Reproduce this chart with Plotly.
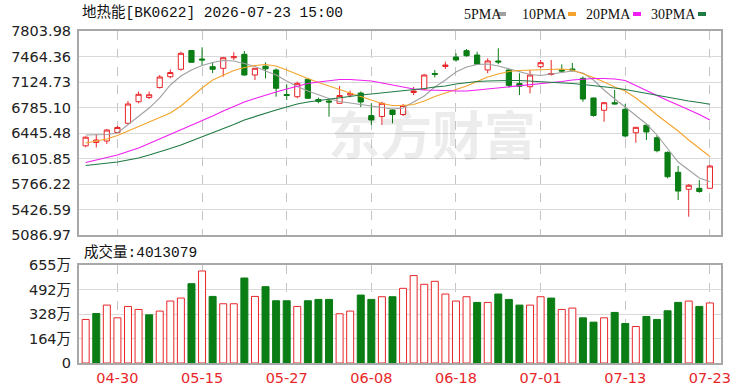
import plotly.graph_objects as go

# ---------------- data ----------------
dates = ["2026-04-27", "2026-04-28", "2026-04-29", "2026-04-30", "2026-05-06", "2026-05-07",
         "2026-05-08", "2026-05-11", "2026-05-12", "2026-05-13", "2026-05-14", "2026-05-15",
         "2026-05-18", "2026-05-19", "2026-05-20", "2026-05-21", "2026-05-22", "2026-05-25",
         "2026-05-26", "2026-05-27", "2026-05-28", "2026-05-29", "2026-06-01", "2026-06-02",
         "2026-06-03", "2026-06-04", "2026-06-05", "2026-06-08", "2026-06-09", "2026-06-10",
         "2026-06-11", "2026-06-12", "2026-06-15", "2026-06-16", "2026-06-17", "2026-06-18",
         "2026-06-22", "2026-06-23", "2026-06-24", "2026-06-25", "2026-06-26", "2026-06-29",
         "2026-06-30", "2026-07-01", "2026-07-02", "2026-07-03", "2026-07-06", "2026-07-07",
         "2026-07-08", "2026-07-09", "2026-07-10", "2026-07-13", "2026-07-14", "2026-07-15",
         "2026-07-16", "2026-07-17", "2026-07-20", "2026-07-21", "2026-07-22", "2026-07-23"]

open_ = [6275, 6319, 6339, 6452, 6575, 6862, 6918, 7051, 7195, 7294,
         7544, 7431, 7329, 7307, 7448, 7494, 7218, 7335, 7285, 6958,
         6929, 7161, 6892, 6872, 6841, 6951, 6978, 6678, 6665, 6752,
         6692, 6985, 7031, 7238, 7331, 7458, 7542, 7484, 7285, 7405,
         7285, 7105, 7062, 7329, 7225, 7285, 7298, 7174, 6912, 6748,
         6849, 6761, 6449, 6548, 6383, 6188, 5922, 5696, 5709, 5709]
high = [6400, 6428, 6499, 6539, 6872, 6998, 6998, 7218, 7291, 7528,
        7551, 7587, 7382, 7458, 7520, 7538, 7311, 7387, 7305, 7094,
        7129, 7174, 6916, 6908, 7071, 7009, 6998, 6841, 6862, 6765,
        6832, 7058, 7231, 7284, 7395, 7507, 7564, 7528, 7440, 7574,
        7298, 7241, 7285, 7418, 7418, 7360, 7378, 7198, 6918, 6852,
        7018, 6832, 6525, 6565, 6415, 6199, 6006, 5766, 5820, 6020]
low = [6255, 6252, 6299, 6439, 6559, 6841, 6898, 7038, 7174, 7275,
       7384, 7351, 7241, 7195, 7418, 7211, 7151, 7174, 6929, 6885,
       6908, 6898, 6841, 6663, 6838, 6921, 6792, 6552, 6552, 6575,
       6672, 6951, 7018, 7185, 7298, 7395, 7462, 7351, 7241, 7361,
       7051, 6951, 6974, 7311, 7211, 7254, 7267, 6862, 6663, 6596,
       6825, 6386, 6316, 6352, 6188, 5842, 5553, 5331, 5650, 5706]
close = [6390, 6352, 6485, 6519, 6832, 6961, 6955, 7191, 7251, 7507,
         7387, 7418, 7294, 7448, 7462, 7218, 7307, 7300, 7041, 6945,
         7107, 6908, 6865, 6858, 6945, 6972, 6858, 6619, 6841, 6692,
         6812, 7005, 7218, 7225, 7351, 7418, 7475, 7361, 7405, 7391,
         7080, 7068, 7218, 7382, 7238, 7271, 7285, 6898, 6679, 6849,
         6832, 6406, 6521, 6459, 6210, 5863, 5672, 5749, 5666, 6006]

# volume in units of 10,000 (万)
volume_wan = [291, 331, 387, 302, 378, 358, 322, 347, 414, 434,
              530, 615, 445, 396, 396, 568, 445, 510, 416, 416,
              378, 416, 425, 425, 329, 347, 454, 425, 443, 443,
              499, 584, 526, 546, 461, 414, 443, 405, 405, 461,
              425, 387, 387, 443, 434, 358, 367, 302, 273, 302,
              338, 264, 244, 311, 291, 349, 405, 414, 378, 401.3079]

ma5 = [6419, 6419, 6425, 6445, 6552, 6659, 6778, 6912, 7085, 7205,
       7285, 7344, 7384, 7411, 7404, 7371, 7331, 7271, 7218, 7138,
       7065, 7005, 6952, 6905, 6865, 6845, 6825, 6805, 6785, 6765,
       6778, 6858, 6938, 7058, 7151, 7258, 7325, 7358, 7364, 7338,
       7298, 7258, 7225, 7211, 7231, 7258, 7271, 7245, 7151, 7018,
       6898, 6792, 6672, 6565, 6419, 6246, 6059, 5953, 5846, 5797]
ma10 = [6312, 6339, 6366, 6412, 6472, 6525, 6585, 6645, 6712, 6805,
        6925, 7045, 7151, 7218, 7278, 7318, 7344, 7358, 7338, 7285,
        7225, 7171, 7118, 7071, 7025, 6985, 6938, 6885, 6838, 6812,
        6812, 6825, 6872, 6932, 6978, 7018, 7071, 7131, 7191, 7231,
        7265, 7278, 7285, 7291, 7298, 7298, 7285, 7238, 7185, 7125,
        7058, 7005, 6912, 6805, 6685, 6579, 6472, 6352, 6246, 6132]
ma20 = [6053, 6086, 6119, 6152, 6199, 6246, 6306, 6366, 6432, 6492,
        6552, 6612, 6672, 6738, 6798, 6858, 6905, 6952, 6992, 7031,
        7071, 7105, 7125, 7145, 7158, 7158, 7151, 7138, 7111, 7085,
        7058, 7031, 7018, 7018, 7011, 7005, 7005, 7018, 7031, 7045,
        7058, 7071, 7085, 7098, 7111, 7131, 7151, 7165, 7171, 7171,
        7165, 7145, 7078, 7005, 6938, 6878, 6818, 6758, 6692, 6619]
ma30 = [6013, 6026, 6039, 6059, 6086, 6112, 6152, 6192, 6239, 6286,
        6339, 6392, 6445, 6499, 6559, 6619, 6665, 6712, 6752, 6792,
        6832, 6858, 6878, 6898, 6918, 6938, 6952, 6965, 6978, 6998,
        7011, 7025, 7038, 7058, 7071, 7098, 7118, 7131, 7138, 7145,
        7145, 7145, 7138, 7131, 7125, 7118, 7105, 7091, 7078, 7065,
        7045, 7025, 6998, 6978, 6952, 6925, 6898, 6872, 6852, 6828]

tick_dates = ["2026-04-30", "2026-05-15", "2026-05-27", "2026-06-08",
              "2026-06-18", "2026-07-01", "2026-07-13", "2026-07-23"]
tick_text = ["04-30", "05-15", "05-27", "06-08", "06-18", "07-01", "07-13", "07-23"]
price_ticks = [7803.98, 7464.36, 7124.73, 6785.10, 6445.48, 6105.85, 5766.22, 5426.59, 5086.97]
vol_ticks = [0, 163.75, 327.5, 491.25, 655]
vol_tick_text = ["0", "164万", "328万", "492万", "655万"]
ma_names = ["5PMA", "10PMA", "20PMA", "30PMA"]

title_text = "地热能[BK0622] 2026-07-23 15:00"

# ---------------- styles ----------------
RED = "#e8262a"
GREEN = "#0a7d14"
MA_COLORS = ["#a0a0a0", "#f4a42c", "#f01ef0", "#1f7a44"]
BORDER = "#a8a8a8"
GRID = "#d9d9d9"
VGRID = "#c4c4c4"
TICKFONT = dict(family="DejaVu Sans, Noto Sans CJK SC", size=14.5, color="#222")

W, H = 750, 391
L, R, T, B = 79, 29, 31, 28
PW, PH = W - L - R, H - T - B


def xp(px):
    return (px - L) / PW


def yp(py):
    return (H - B - py) / PH


# volume colour: up if close >= previous close
vol_up = []
for i in range(len(close)):
    ref = close[i - 1] if i > 0 else open_[i]
    vol_up.append(close[i] >= ref)

fig = go.Figure()

fig.add_trace(go.Candlestick(
    x=dates, open=open_, high=high, low=low, close=close,
    increasing=dict(line=dict(color=RED, width=1), fillcolor="white"),
    decreasing=dict(line=dict(color=GREEN, width=1), fillcolor=GREEN),
    whiskerwidth=0, xaxis="x", yaxis="y", showlegend=False, hoverinfo="skip"))

for name, vals, col in zip(ma_names, [ma5, ma10, ma20, ma30], MA_COLORS):
    fig.add_trace(go.Scatter(x=dates, y=vals, mode="lines", name=name,
                             line=dict(color=col, width=1.1), xaxis="x", yaxis="y",
                             showlegend=False, hoverinfo="skip"))

fig.add_trace(go.Bar(
    x=dates, y=volume_wan, width=0.66,
    marker=dict(color=["white" if u else GREEN for u in vol_up],
                line=dict(color=[RED if u else GREEN for u in vol_up], width=1)),
    xaxis="x2", yaxis="y2", showlegend=False, hoverinfo="skip"))

xrange = [-0.63, 60.05]
common_x = dict(type="category", range=xrange, tickmode="array", tickvals=tick_dates,
                showgrid=True, gridcolor=VGRID, griddash="dash", gridwidth=1,
                showline=True, mirror=True, linecolor=BORDER, linewidth=2,
                zeroline=False, fixedrange=True, automargin=False)

fig.update_layout(
    width=W, height=H,
    margin=dict(l=L, r=R, t=T, b=B, autoexpand=False),
    paper_bgcolor="white", plot_bgcolor="white",
    showlegend=False,
    xaxis=dict(common_x, domain=[0, 1], anchor="y", showticklabels=False,
               rangeslider=dict(visible=False)),
    yaxis=dict(domain=[yp(235), 1], anchor="x", range=[price_ticks[-1], price_ticks[0]],
               tickmode="array", tickvals=price_ticks,
               ticktext=["%.2f" % v for v in price_ticks],
               showgrid=True, gridcolor=GRID, gridwidth=1,
               showline=True, mirror=True, linecolor=BORDER, linewidth=2,
               zeroline=False, tickfont=TICKFONT, ticks="outside", ticklen=3,
               tickcolor="rgba(0,0,0,0)", automargin=False),
    xaxis2=dict(common_x, domain=[0, 1], anchor="y2", ticktext=tick_text,
                tickfont=dict(family="DejaVu Sans", size=14.5, color=RED),
                ticks="outside", ticklen=1, tickcolor="rgba(0,0,0,0)"),
    yaxis2=dict(domain=[0, yp(265)], anchor="x2", range=[0, 655],
                tickmode="array", tickvals=vol_ticks, ticktext=vol_tick_text,
                showgrid=True, gridcolor=GRID, gridwidth=1,
                showline=True, mirror=True, linecolor=BORDER, linewidth=2,
                zeroline=False, tickfont=TICKFONT, ticks="outside", ticklen=3,
                tickcolor="rgba(0,0,0,0)", automargin=False),
    bargap=0.3,
)

annotations = [
    dict(text=title_text, x=xp(80), y=yp(13), xref="paper", yref="paper",
         xanchor="left", yanchor="middle", showarrow=False,
         font=dict(family="Liberation Mono, Noto Sans CJK SC", size=14.5, color="#111")),
    dict(text="成交量:%d" % round(volume_wan[-1] * 10000), x=xp(82), y=yp(252),
         xref="paper", yref="paper", xanchor="left", yanchor="middle", showarrow=False,
         font=dict(family="Liberation Mono, Noto Sans CJK SC", size=14.5, color="#111")),
    dict(text="<b>东方财富</b>", x=xp(432), y=yp(132), xref="paper", yref="paper",
         xanchor="center", yanchor="middle", showarrow=False,
         font=dict(family="Noto Sans CJK SC", size=52, color="rgba(0,0,0,0.075)")),
]

# legend (text followed by a small colour swatch)
legend_x = [462, 520, 584, 649]
swatch_x = [498, 568, 633, 698]
shapes = []
for name, col, lx, sx in zip(ma_names, MA_COLORS, legend_x, swatch_x):
    annotations.append(dict(text=name, x=xp(lx), y=yp(14), xref="paper", yref="paper",
                            xanchor="left", yanchor="middle", showarrow=False,
                            font=dict(family="Liberation Serif", size=14, color="#111")))
    shapes.append(dict(type="rect", xref="paper", yref="paper",
                       x0=xp(sx), x1=xp(sx + 8), y0=yp(16), y1=yp(12),
                       fillcolor=col, line=dict(width=0)))

fig.update_layout(annotations=annotations, shapes=shapes)

fig.write_html("out.html")
